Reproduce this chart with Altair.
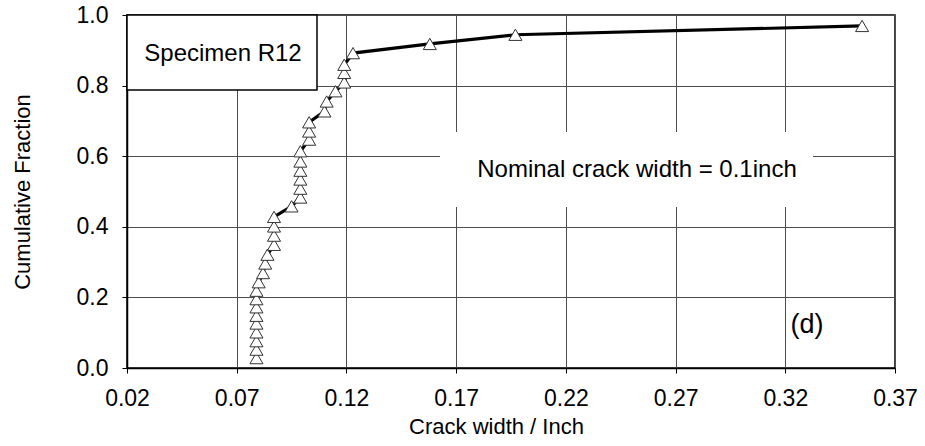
import altair as alt
import pandas as pd

# Measured crack widths (inch), sorted, and their cumulative fractions
crack_width = [
    0.079, 0.079, 0.079, 0.079, 0.079, 0.079, 0.079, 0.079, 0.079, 0.080,
    0.082, 0.083, 0.084,
    0.087, 0.087, 0.087, 0.087,
    0.095,
    0.099, 0.099, 0.099, 0.099, 0.099, 0.099,
    0.103, 0.103, 0.103,
    0.110, 0.111, 0.115,
    0.119, 0.119, 0.119,
    0.123,
    0.158, 0.197, 0.355,
]
cum_fraction = [
    0.028, 0.052, 0.076, 0.101, 0.126, 0.148, 0.172, 0.195, 0.219, 0.243,
    0.269, 0.296, 0.321,
    0.349, 0.375, 0.401, 0.428,
    0.458,
    0.483, 0.508, 0.534, 0.559, 0.585, 0.614,
    0.647, 0.670, 0.696,
    0.727, 0.755, 0.784,
    0.809, 0.836, 0.859,
    0.892,
    0.918, 0.944, 0.969,
]

x_ticks = [0.02, 0.07, 0.12, 0.17, 0.22, 0.27, 0.32, 0.37]
y_ticks = [0.0, 0.2, 0.4, 0.6, 0.8, 1.0]

df = pd.DataFrame({"w": crack_width, "f": cum_fraction})

W, H = 768, 353
FONT = "Liberation Sans"

x_enc = alt.X(
    "w:Q",
    scale=alt.Scale(domain=[0.02, 0.37], nice=False, zero=False),
    axis=alt.Axis(
        values=x_ticks, format=".2f", title="Crack width / Inch",
        labelFontSize=23, titleFontSize=22, labelPadding=14, labelFlush=False,
        titleY=48, titleX=W / 2 - 15, titleBaseline="top", titleFontWeight="normal",
    ),
)
y_enc = alt.Y(
    "f:Q",
    scale=alt.Scale(domain=[0, 1], nice=False),
    axis=alt.Axis(
        values=y_ticks, format=".1f", title="Cumulative Fraction",
        labelFontSize=23, titleFontSize=22, labelPadding=14, labelFlush=False,
        titleX=-105, titleY=H / 2, titleAngle=270, titleBaseline="middle",
        titleFontWeight="normal",
    ),
)

base = alt.Chart(df)

line = base.mark_line(color="black", strokeWidth=3.2).encode(x=x_enc, y=y_enc)
points = base.mark_point(
    shape="triangle-up", size=170, filled=True, fill="white",
    stroke="#333333", strokeWidth=1, opacity=1,
).encode(x="w:Q", y="f:Q")

# Label box in the upper-left corner
spec_box = alt.Chart(pd.DataFrame({"k": [0]})).mark_rect(
    fill="white", stroke="black", strokeWidth=1.5
).encode(x=alt.value(0), x2=alt.value(190), y=alt.value(0), y2=alt.value(75))
spec_text = alt.Chart(pd.DataFrame({"t": ["Specimen R12"]})).mark_text(
    font=FONT, fontSize=24, color="black", align="center", baseline="middle"
).encode(x=alt.value(96), y=alt.value(39), text="t:N")

# Nominal crack width note on a white panel
nom_box = alt.Chart(pd.DataFrame({"k": [0]})).mark_rect(
    fill="white", stroke=None
).encode(x=alt.value(313), x2=alt.value(686), y=alt.value(117), y2=alt.value(192))
nom_text = alt.Chart(pd.DataFrame({"t": ["Nominal crack width = 0.1inch"]})).mark_text(
    font=FONT, fontSize=24, color="black", align="center", baseline="middle"
).encode(x=alt.value(510), y=alt.value(155), text="t:N")

panel_tag = alt.Chart(pd.DataFrame({"t": ["(d)"]})).mark_text(
    font=FONT, fontSize=27, color="black", align="center", baseline="middle"
).encode(x=alt.value(680), y=alt.value(310), text="t:N")

chart = (
    alt.layer(line, points, spec_box, spec_text, nom_box, nom_text, panel_tag)
    .properties(
        width=W, height=H,
        padding={"left": 127, "top": 15, "right": 30, "bottom": 78},
        autosize=alt.AutoSizeParams(type="none"),
        background="white",
    )
    .configure_view(stroke="black", strokeWidth=1.5)
    .configure_axis(
        labelFont=FONT, titleFont=FONT, labelColor="black", titleColor="black",
        gridColor="#4d4d4d", gridWidth=1, gridOpacity=1,
        domainColor="black", domainWidth=1.5, tickColor="black", tickSize=5,
        tickWidth=1,
    )
)

chart.save("out.html", embed_options={"renderer": "svg", "actions": False})
